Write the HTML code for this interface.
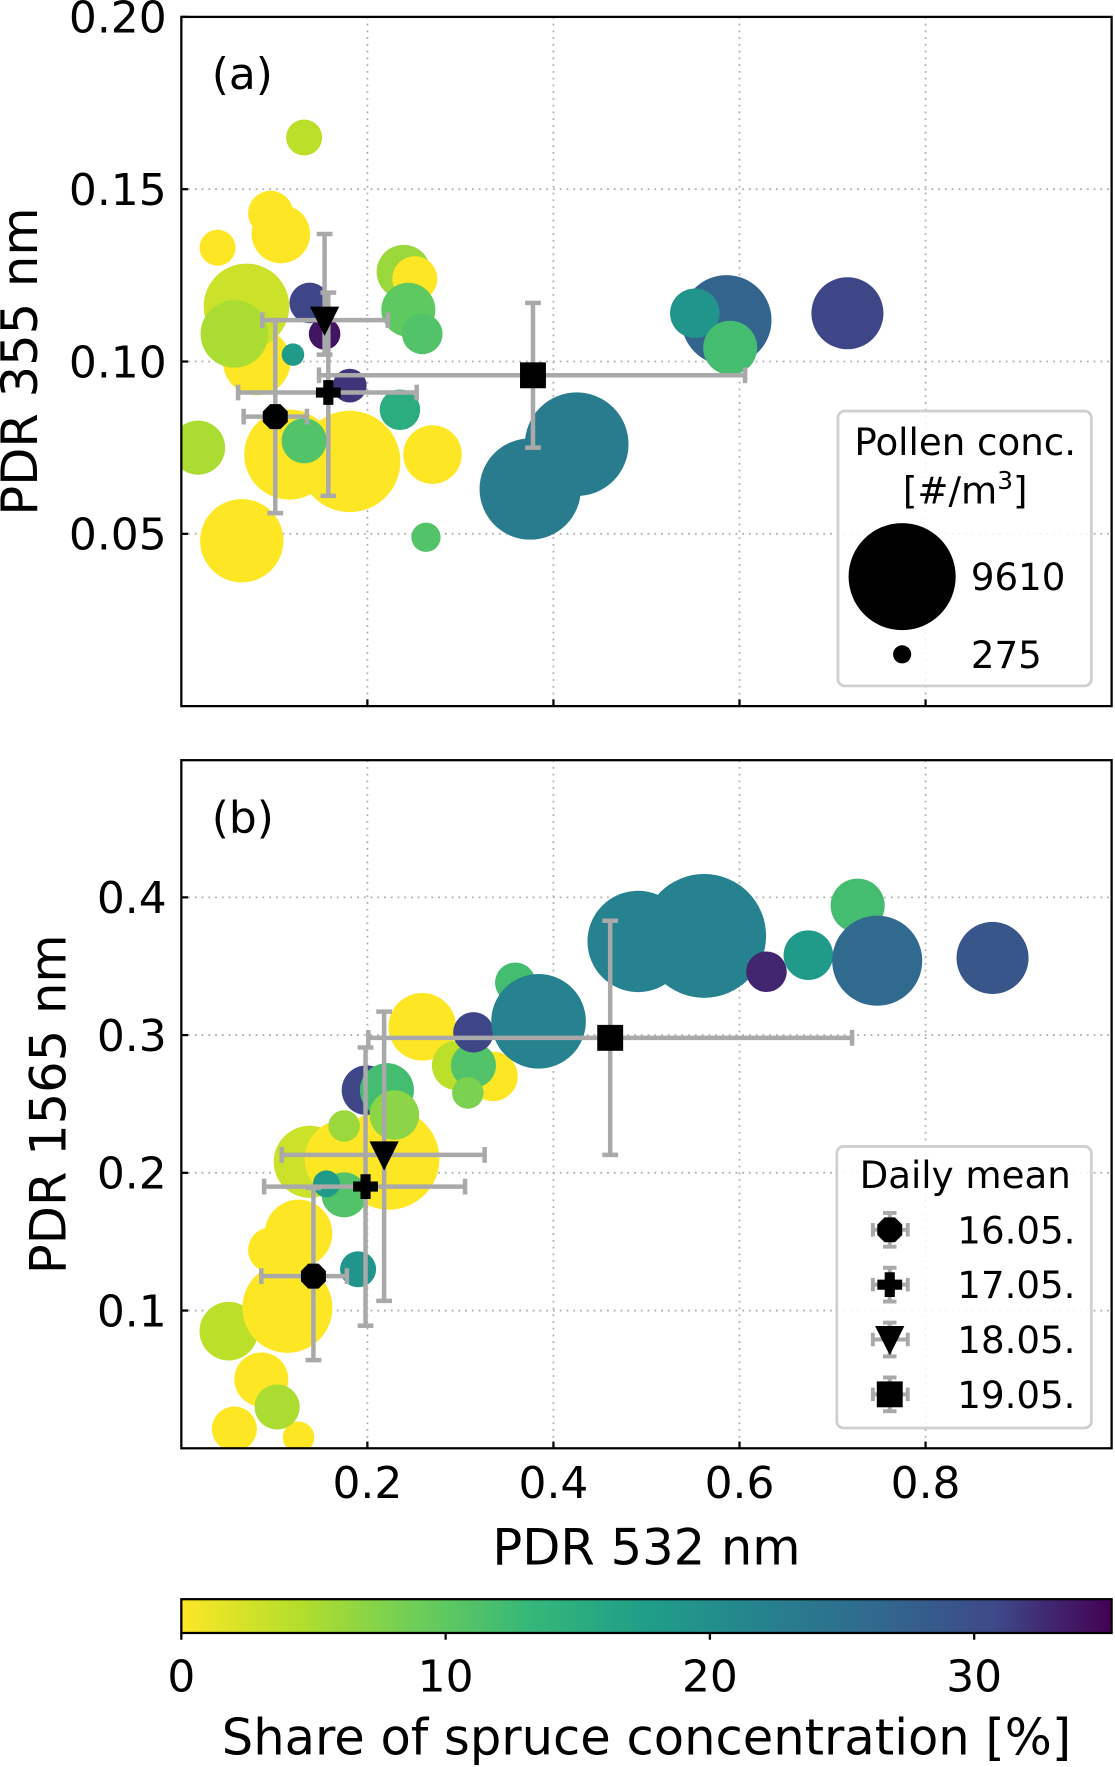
<!DOCTYPE html>
<html><head><meta charset="utf-8"><style>
html,body{margin:0;padding:0;background:#fff;}
svg{display:block;font-family:"DejaVu Sans","Liberation Sans",sans-serif;}
</style></head><body>
<svg id="fig" width="1115" height="1767" viewBox="0 0 990 1569" preserveAspectRatio="none" xmlns="http://www.w3.org/2000/svg">
<defs>
<linearGradient id="vir" x1="0" x2="1" y1="0" y2="0">
<stop offset="0" stop-color="#fde725"/><stop offset="0.125" stop-color="#b5de2b"/><stop offset="0.25" stop-color="#6ece58"/><stop offset="0.375" stop-color="#35b779"/><stop offset="0.5" stop-color="#1f9e89"/><stop offset="0.625" stop-color="#26828e"/><stop offset="0.75" stop-color="#31688e"/><stop offset="0.875" stop-color="#3e4989"/><stop offset="1" stop-color="#440154"/>
</linearGradient>
<clipPath id="clipA"><rect x="161" y="15" width="826" height="612"/></clipPath>
<clipPath id="clipB"><rect x="161" y="675" width="826" height="611"/></clipPath>
</defs>
<g id="root"></g>
</svg>
<script>
// Panel (a) data
const aX = [0.039,0.096,0.107,0.065,0.116,0.181,0.081,0.070,0.057,0.132,0.018,0.270,0.239,0.251,0.244,0.259,0.263,0.138,0.154,0.120,0.132,0.181,0.235,0.375,0.425,0.586,0.552,0.590,0.716];
const aY = [0.133,0.143,0.137,0.048,0.073,0.071,0.100,0.116,0.108,0.165,0.075,0.073,0.126,0.124,0.115,0.108,0.049,0.117,0.108,0.102,0.077,0.093,0.086,0.063,0.076,0.112,0.114,0.104,0.114];
const aShare = [0,0,0,0,0,0,0,3,5,4,5,0,6,0,10,11,11,31,34,18,11,32,15,23,23,27,19,12,31];
const aConc = [1088,1700,2874,5820,6800,8600,3826,6140,3826,1088,2450,2874,2450,1700,2450,1377,718,1377,833,425,1700,956,1377,8600,9000,6800,2058,2450,4350];
// Panel (b) data
const bX = [0.051,0.057,0.086,0.126,0.114,0.096,0.126,0.138,0.175,0.223,0.103,0.259,0.296,0.335,0.190,0.175,0.156,0.175,0.199,0.221,0.229,0.314,0.308,0.314,0.359,0.384,0.491,0.562,0.629,0.674,0.727,0.748,0.872];
const bY = [0.085,0.014,0.050,0.008,0.102,0.144,0.156,0.208,0.210,0.210,0.030,0.306,0.278,0.270,0.130,0.184,0.192,0.234,0.260,0.260,0.242,0.278,0.258,0.302,0.338,0.310,0.368,0.372,0.346,0.358,0.394,0.354,0.356];
const bShare = [4,0,0,0,0,0,0,3,0,0,5,0,4,0,19,11,18,6,31,12,7,11,8,31,12,22,22,22,33,18,12,26,29];
const bConc = [2874,1700,2450,833,6800,1700,3826,4350,5200,8600,1700,3826,2058,2058,1088,1700,612,833,2058,2450,2058,1700,833,1377,1377,7500,8600,12860,1377,2058,2450,6800,4350];
// Daily means
const meanLabels = ["16.05.","17.05.","18.05.","19.05."];
const meanSym = ["oct","plus","tri","sq"];
const maX=[0.101,0.158,0.154,0.378], maY=[0.084,0.091,0.112,0.096];
const maXlo=[0.067,0.061,0.087,0.148], maXhi=[0.135,0.253,0.222,0.606];
const maYlo=[0.056,0.061,0.102,0.075], maYhi=[0.112,0.120,0.137,0.117];
const mbX=[0.142,0.198,0.218,0.461], mbY=[0.125,0.190,0.213,0.298];
const mbXlo=[0.086,0.089,0.108,0.201], mbXhi=[0.178,0.305,0.326,0.721];
const mbYlo=[0.064,0.089,0.107,0.213], mbYhi=[0.189,0.291,0.317,0.383];
const xTicks=[0.2,0.4,0.6,0.8];
const aTicks=[0.05,0.10,0.15,0.20], aTickLabels=["0.05","0.10","0.15","0.20"];
const bTicks=[0.1,0.2,0.3,0.4], bTickLabels=["0.1","0.2","0.3","0.4"];
const cTicks=[0,10,20,30];

const NS="http://www.w3.org/2000/svg";
const root=document.getElementById('root');
function mk(tag,attrs,parent){const e=document.createElementNS(NS,tag);for(const k in attrs)e.setAttribute(k,attrs[k]);(parent||root).appendChild(e);return e;}
const L=161,R=987;
const sx=v=>L+v*(R-L);
const syA=v=>627-v*3060;
const syB=v=>1286-v*1223;
const cmax=35.2;
const vstops=[[253,231,37],[181,222,43],[110,206,88],[53,183,121],[31,158,137],[38,130,142],[49,104,142],[62,73,137],[68,1,84]];
function vir(s){let t=Math.max(0,Math.min(1,s/cmax))*8;const i=Math.min(7,Math.floor(t));const f=t-i;const a=vstops[i],b=vstops[i+1];return `rgb(${a.map((c,j)=>Math.round(c+(b[j]-c)*f)).join(',')})`;}
const rad=c=>0.485*Math.sqrt(c);

function panel(name,top,bot,sy,ticks,tlabels,X,Y,S,C,mx,my,mxl,mxh,myl,myh,clip,letter,ylabel,ylx){
  const g=mk('g',{});
  
  
  xTicks.forEach(t=>{const l=mk('line',{x1:sx(t),x2:sx(t),y1:top,y2:bot,stroke:'#b0b0b0','stroke-width':1.6,'stroke-dasharray':'1.6,4.4'},g);});
  ticks.forEach(t=>{const l=mk('line',{x1:L,x2:R,y1:sy(t),y2:sy(t),stroke:'#b0b0b0','stroke-width':1.6,'stroke-dasharray':'1.6,4.4'},g);});
  const pts=mk('g',{'clip-path':`url(#${clip})`},g);
  
  
  X.forEach((x,i)=>{const c=mk('circle',{cx:sx(x),cy:sy(Y[i]),r:rad(C[i]),fill:vir(S[i])},pts);});
  mx.forEach((x,i)=>{
    const m=mk('g',{},pts);
    
    
    const cx=sx(x),cy=sy(my[i]);
    const st={stroke:'#a9a9a9','stroke-width':4};
    mk('line',Object.assign({x1:sx(mxl[i]),x2:sx(mxh[i]),y1:cy,y2:cy},st),m);
    mk('line',Object.assign({x1:cx,x2:cx,y1:sy(myl[i]),y2:sy(myh[i])},st),m);
    [sx(mxl[i]),sx(mxh[i])].forEach(px=>mk('line',Object.assign({x1:px,x2:px,y1:cy-7,y2:cy+7},st),m));
    [sy(myl[i]),sy(myh[i])].forEach(py=>mk('line',Object.assign({x1:cx-7,x2:cx+7,y1:py,y2:py},st),m));
    drawSym(meanSym[i],cx,cy,m);
  });
  const fr=mk('rect',{x:L,y:top,width:R-L,height:bot-top,fill:'none',stroke:'#000','stroke-width':2},g);
  
  xTicks.forEach(t=>mk('line',{x1:sx(t),x2:sx(t),y1:bot,y2:bot-6,stroke:'#000','stroke-width':2},g));
  ticks.forEach((t,i)=>{mk('line',{x1:L,x2:L+6,y1:sy(t),y2:sy(t),stroke:'#000','stroke-width':2},g);
    const tx=mk('text',{x:148,y:sy(t)+14,'text-anchor':'end','font-size':39},g);tx.textContent=tlabels[i];});
  const lt=mk('text',{x:188,y:top+64,'font-size':39},g);lt.textContent=letter;
  const yl=mk('text',{x:0,y:0,'text-anchor':'middle','font-size':44,transform:`translate(${ylx},${(top+bot)/2}) rotate(-90)`},g);yl.textContent=ylabel;
  return g;
}
function drawSym(s,cx,cy,p){
  let e;
  if(s==='oct'){const r=12;let d='';for(let k=0;k<8;k++){const a=Math.PI/8+k*Math.PI/4;d+=(k?'L':'M')+(cx+r*Math.cos(a))+','+(cy+r*Math.sin(a));}e=mk('path',{d:d+'Z',fill:'#000'},p);}
  else if(s==='plus'){const a=4.5,b=11;e=mk('path',{d:`M${cx-a},${cy-b}h${2*a}v${b-a}h${b-a}v${2*a}h${a-b}v${b-a}h${-2*a}v${a-b}h${a-b}v${-2*a}h${b-a}Z`,fill:'#000'},p);}
  else if(s==='tri'){e=mk('path',{d:`M${cx-13},${cy-12}L${cx+13},${cy-12}L${cx},${cy+14}Z`,fill:'#000'},p);}
  else {e=mk('rect',{x:cx-11.5,y:cy-11.5,width:23,height:23,fill:'#000'},p);}
  
}
panel('panel-a',15,627,syA,aTicks,aTickLabels,aX,aY,aShare,aConc,maX,maY,maXlo,maXhi,maYlo,maYhi,'clipA','(a)','PDR 355 nm',33);
const pb=panel('panel-b',675,1286,syB,bTicks,bTickLabels,bX,bY,bShare,bConc,mbX,mbY,mbXlo,mbXhi,mbYlo,mbYhi,'clipB','(b)','PDR 1565 nm',58);
xTicks.forEach(t=>{const tx=mk('text',{x:sx(t),y:1330,'text-anchor':'middle','font-size':39},pb);tx.textContent=t.toFixed(1);});
const xt=mk('text',{x:574,y:1389,'text-anchor':'middle','font-size':44});xt.textContent='PDR 532 nm';



const la=mk('g',{});


mk('rect',{x:744,y:365,width:225,height:244,rx:6,fill:'#fff','fill-opacity':0.85,stroke:'#d0d0d0','stroke-width':2.5},la);
let t1=mk('text',{x:857,y:404,'text-anchor':'middle','font-size':33},la);t1.textContent='Pollen conc.';
let t2=mk('text',{x:857,y:447,'text-anchor':'middle','font-size':33},la);t2.innerHTML='[#/m<tspan dy="-13" font-size="22">3</tspan><tspan dy="13">]</tspan>';
const legConc=[9610,275], legY=[512,581];
legConc.forEach((c,i)=>{const ci=mk('circle',{cx:801,cy:legY[i],r:rad(c),fill:'#000'},la);
  const tt=mk('text',{x:862,y:legY[i]+12,'font-size':33},la);tt.textContent=String(c);});
const lb=mk('g',{});


mk('rect',{x:743,y:1018,width:226,height:250,rx:6,fill:'#fff','fill-opacity':0.85,stroke:'#d0d0d0','stroke-width':2.5},lb);
let t3=mk('text',{x:857,y:1055,'text-anchor':'middle','font-size':33},lb);t3.textContent='Daily mean';
meanLabels.forEach((lab,i)=>{const y=1092+i*48.7;const e=mk('g',{},lb);
  
  
  const st={stroke:'#a9a9a9','stroke-width':3.5};
  mk('line',Object.assign({x1:775,x2:806,y1:y,y2:y},st),e);mk('line',Object.assign({x1:790,x2:790,y1:y-15,y2:y+15},st),e);
  [775,806].forEach(px=>mk('line',Object.assign({x1:px,x2:px,y1:y-6,y2:y+6},st),e));
  [y-15,y+15].forEach(py=>mk('line',Object.assign({x1:784,x2:796,y1:py,y2:py},st),e));
  drawSym(meanSym[i],790,y,e);
  const tt=mk('text',{x:850,y:y+12,'font-size':33},e);tt.textContent=lab;});

const cb=mk('g',{});


mk('rect',{x:L,y:1420,width:R-L,height:30,fill:'url(#vir)',stroke:'#000','stroke-width':2},cb);
cTicks.forEach(t=>{const x=L+t/cmax*(R-L);mk('line',{x1:x,x2:x,y1:1450,y2:1456,stroke:'#000','stroke-width':2},cb);
  const tx=mk('text',{x:x,y:1502,'text-anchor':'middle','font-size':39},cb);tx.textContent=String(t);});
const ct=mk('text',{x:574,y:1558,'text-anchor':'middle','font-size':44},cb);ct.textContent='Share of spruce concentration [%]';


</script>
</body></html>
